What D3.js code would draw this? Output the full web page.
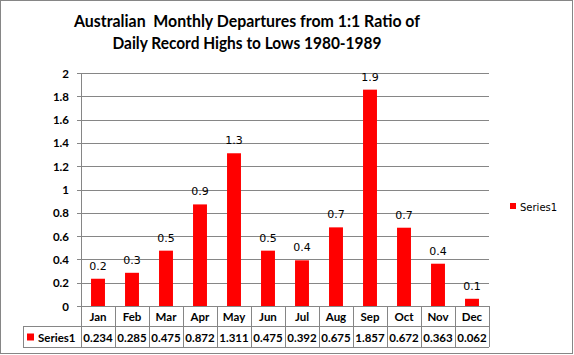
<!DOCTYPE html>
<html><head><meta charset="utf-8">
<script src="https://cdn.jsdelivr.net/npm/d3@7"></script>
<style>
html,body{margin:0;padding:0;background:#fff;}
svg{display:block;}
</style></head>
<body>
<svg id="c" width="574" height="355"></svg>
<script>
const months = ["Jan","Feb","Mar","Apr","May","Jun","Jul","Aug","Sep","Oct","Nov","Dec"];
const series1 = [0.234,0.285,0.475,0.872,1.311,0.475,0.392,0.675,1.857,0.672,0.363,0.062];
const seriesName = "Series1";
const yTicks = [0,0.2,0.4,0.6,0.8,1,1.2,1.4,1.6,1.8,2];
const titleLines = ["Australian  Monthly Departures from 1:1 Ratio of","Daily Record Highs to Lows 1980-1989"];

const svg = d3.select("#c");
const grey = "#868686";
const L = 81, R = 489, T = 73, B = 306;
const rowH = 20.5;
const tableLeft = 23;

svg.append("rect").attr("x",0.5).attr("y",0.5).attr("width",572).attr("height",353)
  .attr("fill","#fff").attr("stroke",grey).attr("stroke-width",1);

const y = d3.scaleLinear().domain([0,2]).range([B,T]);
const x = d3.scaleBand().domain(months).range([L,R]).paddingInner(0.59).paddingOuter(0.295);
const xc = d3.scaleBand().domain(months).range([L,R]).padding(0);

// gridlines
const grid = svg.append("g").attr("transform",`translate(${L},0)`)
  .call(d3.axisLeft(y).tickValues(yTicks.slice(1)).tickSize(-(R-L)).tickFormat(""));
grid.select(".domain").remove();
grid.selectAll("line").attr("stroke",grey).attr("shape-rendering","crispEdges");

// y axis
const ya = svg.append("g").attr("transform",`translate(${L},0)`)
  .call(d3.axisLeft(y).tickValues(yTicks).tickSize(4).tickPadding(8).tickFormat(d3.format("~g")));
ya.select(".domain").attr("stroke",grey).attr("shape-rendering","crispEdges").attr("d",`M-4,${T}H0V${B+2*rowH}`);
ya.selectAll("line").attr("stroke",grey).attr("shape-rendering","crispEdges");
ya.selectAll("text").attr("font-family","Lato, 'Open Sans', sans-serif").attr("font-weight","bold")
  .attr("font-size","11.5px").attr("fill","#000").attr("dy","0.35em");

// bars
svg.append("g").selectAll("rect").data(series1).join("rect")
  .attr("x",(d,i)=>x(months[i])).attr("width",x.bandwidth())
  .attr("y",d=>y(d)).attr("height",d=>y(0)-y(d)).attr("fill","#ff0000");

// data labels
svg.append("g").selectAll("text").data(series1).join("text")
  .attr("x",(d,i)=>x(months[i])+x.bandwidth()/2).attr("y",d=>y(d)-9)
  .attr("text-anchor","middle").attr("font-family","'DejaVu Sans', Verdana, sans-serif")
  .attr("font-size","11px").attr("fill","#000").text(d=>d3.format(".1f")(d));

// table
const tb = svg.append("g");
const hl = (x1,x2,yy)=>tb.append("line").attr("x1",x1).attr("x2",x2).attr("y1",yy).attr("y2",yy)
   .attr("stroke",grey).attr("shape-rendering","crispEdges");
const vl = (xx,y1,y2)=>tb.append("line").attr("x1",xx).attr("x2",xx).attr("y1",y1).attr("y2",y2)
   .attr("stroke",grey).attr("shape-rendering","crispEdges");
hl(L,R,B+0.5);
hl(tableLeft,R,B+rowH);
hl(tableLeft,R,B+2*rowH);
vl(tableLeft,B+rowH,B+2*rowH);
months.forEach(m=>vl(xc(m)+xc.bandwidth(),B,B+2*rowH));

const tf = "Lato, 'Open Sans', sans-serif";
tb.append("g").selectAll("text").data(months).join("text")
  .attr("x",m=>xc(m)+xc.bandwidth()/2).attr("y",B+15)
  .attr("text-anchor","middle").attr("font-family",tf).attr("font-weight","bold")
  .attr("font-size","11.5px").text(m=>m);
tb.append("g").selectAll("text").data(series1).join("text")
  .attr("x",(d,i)=>xc(months[i])+xc.bandwidth()/2).attr("y",B+rowH+15)
  .attr("text-anchor","middle").attr("font-family",tf).attr("font-weight","bold")
  .attr("font-size","11.5px").text(d=>d3.format(".3f")(d));
tb.append("rect").attr("x",27).attr("y",B+rowH+7).attr("width",7).attr("height",7).attr("fill","#ff0000");
tb.append("text").attr("x",38).attr("y",B+rowH+15).attr("font-family",tf).attr("font-weight","bold")
  .attr("font-size","11.5px").text(seriesName);

// legend
svg.append("rect").attr("x",510).attr("y",203).attr("width",6).attr("height",6).attr("fill","#ff0000");
svg.append("text").attr("x",520).attr("y",210.5).attr("font-family","'DejaVu Sans', Verdana, sans-serif")
  .attr("font-size","10px").text(seriesName);

// title
const titleW = [346, 269];
svg.append("g").selectAll("text").data(titleLines).join("text")
  .attr("x",247).attr("y",(d,i)=>27+i*22).attr("text-anchor","middle")
  .attr("font-family",tf).attr("font-weight","bold").attr("font-size","17.5px")
  .attr("textLength",(d,i)=>titleW[i]).attr("lengthAdjust","spacingAndGlyphs")
  .attr("xml:space","preserve").style("white-space","pre").text(d=>d);
</script>
</body></html>
